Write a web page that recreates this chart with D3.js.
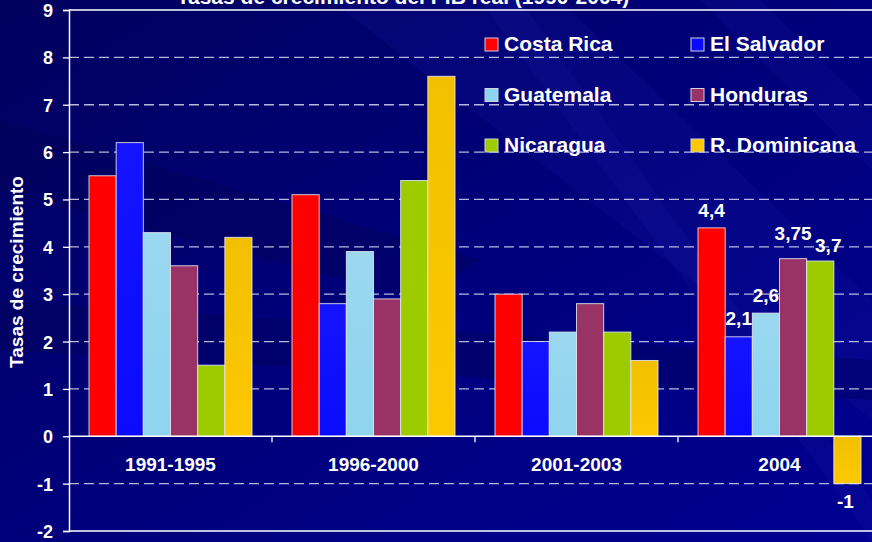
<!DOCTYPE html>
<html><head><meta charset="utf-8">
<script src="https://cdn.jsdelivr.net/npm/d3@7"></script>
<style>html,body{margin:0;padding:0;background:#00007a;overflow:hidden}svg{display:block}</style>
</head><body>
<script>
const periods = ["1991-1995", "1996-2000", "2001-2003", "2004"];
const countries = ["Costa Rica", "El Salvador", "Guatemala", "Honduras", "Nicaragua", "R. Dominicana"];
const costaRica   = [5.5, 5.1, 3.0, 4.4];
const elSalvador  = [6.2, 2.8, 2.0, 2.1];
const guatemala   = [4.3, 3.9, 2.2, 2.6];
const honduras    = [3.6, 2.9, 2.8, 3.75];
const nicaragua   = [1.5, 5.4, 2.2, 3.7];
const rDominicana = [4.2, 7.6, 1.6, -1];
const yTicks = [-2, -1, 0, 1, 2, 3, 4, 5, 6, 7, 8, 9];
const labels2004 = ["4,4", "2,1", "2,6", "3,75", "3,7", "-1"];
const title = "Tasas de crecimiento del PIB real (1990-2004)";
const yTitle = "Tasas de crecimiento";

const colors = ["#ff0000", "#0a0aff", "#8fd4ee", "#993366", "#9ccc00", "#fcc800"];
const colorsTop = ["#ff0000", "#1414ff", "#9ad8f0", "#993366", "#9ccc00", "#f2c000"];
const series = [costaRica, elSalvador, guatemala, honduras, nicaragua, rDominicana];
const labelNudge = [[0, -11], [0, -12], [0, -11], [0, -19], [8, -9], [-2, 24]];

const W = 872, H = 542;
const FONT = "Liberation Sans, Arial, sans-serif";
const svg = d3.select("body").append("svg").attr("width", W).attr("height", H);
const defs = svg.append("defs");

// background
const bg = defs.append("linearGradient").attr("id", "bg").attr("x1", "0").attr("y1", "0").attr("x2", "1").attr("y2", "1");
bg.append("stop").attr("offset", "0").attr("stop-color", "#00005e");
bg.append("stop").attr("offset", "0.45").attr("stop-color", "#000078");
bg.append("stop").attr("offset", "1").attr("stop-color", "#000092");
svg.append("rect").attr("width", W).attr("height", H).attr("fill", "url(#bg)");
const streaks = [
  [[330,0],[560,0],[872,300],[872,420]],
  [[700,0],[760,0],[872,110],[872,170]],
  [[0,120],[0,190],[420,300],[480,260]],
  [[0,300],[0,350],[872,400],[872,360]],
  [[480,0],[520,0],[872,500],[872,540]]
];
svg.append("g").selectAll("path").data(streaks).join("path")
  .attr("d", d => "M" + d.map(p => p.join(",")).join("L") + "Z")
  .attr("fill", (d, i) => i === 2 || i === 3 ? "#000050" : "#1a1aa8")
  .attr("opacity", (d, i) => i === 2 || i === 3 ? 0.35 : 0.18);

for (let i = 0; i < 6; i++) {
  const g = defs.append("linearGradient").attr("id", "bar" + i).attr("x1", 0).attr("y1", 0).attr("x2", 0).attr("y2", 1);
  g.append("stop").attr("offset", 0).attr("stop-color", colorsTop[i]);
  g.append("stop").attr("offset", 1).attr("stop-color", colors[i]);
}

const x0 = d3.scaleBand().domain(periods).range([69, 881]);
const x1 = d3.scaleBand().domain(countries).range([20, x0.bandwidth() - 20]);
const y = d3.scaleLinear().domain([-2, 9]).range([531, 10]);

// gridlines
svg.append("g").selectAll("line").data(yTicks.filter(t => t !== 0 && t !== 9 && t !== -2)).join("line")
  .attr("x1", 69).attr("x2", W).attr("y1", d => y(d)).attr("y2", d => y(d))
  .attr("stroke", "#d8d8ee").attr("stroke-opacity", 0.85).attr("stroke-width", 1.3)
  .attr("stroke-dasharray", "10,5");
svg.append("g").selectAll("line").data([9, -2]).join("line")
  .attr("x1", 69).attr("x2", W).attr("y1", d => y(d)).attr("y2", d => y(d))
  .attr("stroke", "#ffffff").attr("stroke-width", 1.3);

// bars
const groups = svg.append("g").selectAll("g").data(periods).join("g")
  .attr("transform", d => `translate(${x0(d)},0)`);
groups.selectAll("rect").data((p, pi) => countries.map((c, ci) => ({c, ci, v: series[ci][pi]}))).join("rect")
  .attr("x", d => x1(d.c)).attr("width", x1.bandwidth())
  .attr("y", d => y(Math.max(0, d.v))).attr("height", d => Math.abs(y(d.v) - y(0)))
  .attr("fill", d => `url(#bar${d.ci})`)
  .attr("stroke", "#e8e8f0").attr("stroke-opacity", 0.85).attr("stroke-width", 1);

// zero line & y axis
svg.append("line").attr("x1", 69).attr("x2", W).attr("y1", y(0)).attr("y2", y(0))
  .attr("stroke", "#ffffff").attr("stroke-width", 1.5);
const yAxis = svg.append("g").attr("transform", "translate(69,0)")
  .call(d3.axisLeft(y).tickValues(yTicks).tickSize(6).tickPadding(10).tickFormat(d => String(d)));
yAxis.select(".domain").attr("stroke", "#ffffff").attr("stroke-width", 1.5);
yAxis.selectAll(".tick line").attr("stroke", "#ffffff").attr("stroke-width", 1.3);
yAxis.selectAll(".tick text").attr("fill", "#ffffff").attr("font-family", FONT)
  .attr("font-weight", "bold").attr("font-size", 18).attr("dy", "0.36em");

// category ticks & labels
const xAxis = svg.append("g").attr("transform", `translate(0,${y(0)})`)
  .call(d3.axisBottom(x0).tickSize(0).tickPadding(21));
xAxis.select(".domain").remove();
xAxis.selectAll(".tick text").attr("fill", "#ffffff").attr("font-family", FONT)
  .attr("font-weight", "bold").attr("font-size", 19);
svg.append("g").selectAll("line").data(periods.slice(1)).join("line")
  .attr("x1", d => x0(d)).attr("x2", d => x0(d)).attr("y1", y(0)).attr("y2", y(0) + 6)
  .attr("stroke", "#ffffff").attr("stroke-width", 1.3);

// data labels for 2004
const last = periods[3];
svg.append("g").selectAll("text").data(labels2004).join("text")
  .attr("x", (d, i) => x0(last) + x1(countries[i]) + x1.bandwidth() / 2 + labelNudge[i][0])
  .attr("y", (d, i) => y(series[i][3]) + labelNudge[i][1])
  .attr("text-anchor", "middle").attr("fill", "#ffffff")
  .attr("font-family", FONT).attr("font-weight", "bold").attr("font-size", 19)
  .text(d => d);

// title (cut off at the top edge, as in the reference)
svg.append("text").attr("x", 403).attr("y", 4).attr("text-anchor", "middle")
  .attr("fill", "#ffffff").attr("font-family", FONT)
  .attr("font-weight", "bold").attr("font-size", 21).text(title);

// y title
svg.append("text").attr("transform", "translate(23,272) rotate(-90)").attr("text-anchor", "middle")
  .attr("fill", "#ffffff").attr("font-family", FONT)
  .attr("font-weight", "bold").attr("font-size", 19).text(yTitle);

// legend
const legend = svg.append("g").selectAll("g").data(countries).join("g")
  .attr("transform", (d, i) => `translate(${i % 2 === 0 ? 485 : 691},${38 + Math.floor(i / 2) * 50.5})`);
legend.append("rect").attr("width", 13).attr("height", 13)
  .attr("fill", (d, i) => colors[i]).attr("stroke", "#d0d0e0").attr("stroke-width", 1);
legend.append("text").attr("x", 19).attr("y", 13)
  .attr("fill", "#ffffff").attr("font-family", FONT)
  .attr("font-weight", "bold").attr("font-size", 21).text(d => d);
</script>
</body></html>
